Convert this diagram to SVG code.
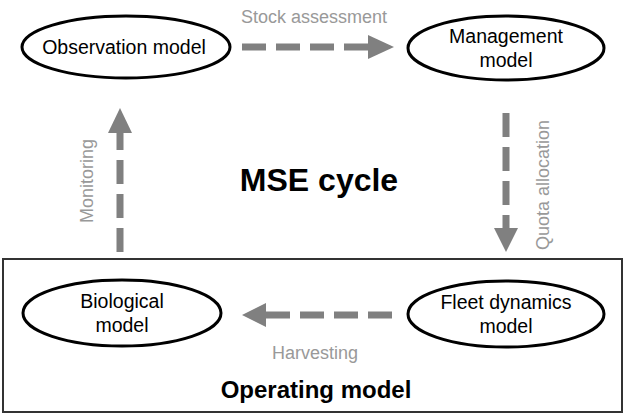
<svg xmlns="http://www.w3.org/2000/svg" width="626" height="417" viewBox="0 0 626 417">
<style>
.node ellipse{fill:#fff;stroke:#000;stroke-width:3}
.lbl{font-family:"Liberation Sans",Arial,sans-serif;font-size:19.5px;fill:#000;text-anchor:middle}
.edge{font-family:"Liberation Sans",Arial,sans-serif;font-size:18px;fill:#999;text-anchor:middle}
.dash{stroke:#808080;stroke-width:7;fill:none;stroke-dasharray:24 10}
.head{fill:#808080}
.title{font-family:"Liberation Sans",Arial,sans-serif;font-weight:bold;fill:#000;text-anchor:middle}
</style>
<rect x="3" y="259" width="619" height="153" fill="none" stroke="#333" stroke-width="2"/>
<g id="observation" class="node"><ellipse cx="126" cy="47" rx="104" ry="31"/><text class="lbl" x="124" y="54">Observation  model</text></g>
<g id="management" class="node"><ellipse cx="506" cy="48" rx="98" ry="32"/><text class="lbl" x="506" y="43">Management</text><text class="lbl" x="506" y="67">model</text></g>
<g id="biological" class="node"><ellipse cx="122" cy="313" rx="99" ry="33"/><text class="lbl" x="122" y="308">Biological</text><text class="lbl" x="122" y="332">model</text></g>
<g id="fleet" class="node"><ellipse cx="506" cy="314" rx="98" ry="33"/><text class="lbl" x="506" y="309">Fleet dynamics</text><text class="lbl" x="506" y="333">model</text></g>
<g id="connectors">
<line class="dash" x1="242" y1="47" x2="370" y2="47"/><polygon class="head" points="368,35 394,47 368,59"/>
<line class="dash" x1="506" y1="113" x2="506" y2="228"/><polygon class="head" points="494,228 506,252 518,228"/>
<line class="dash" x1="392" y1="315" x2="266" y2="315"/><polygon class="head" points="266,303 242,315 266,327"/>
<line class="dash" x1="120" y1="252" x2="120" y2="132"/><polygon class="head" points="108,133 120,108 132,133"/>
</g>
<text class="edge" x="314" y="23">Stock assessment</text>
<text class="edge" transform="translate(93,181) rotate(-90)">Monitoring</text>
<text class="edge" transform="translate(549,185) rotate(-90)">Quota allocation</text>
<text class="edge" x="315" y="359">Harvesting</text>
<text class="title" x="319" y="191" font-size="32">MSE cycle</text>
<text class="title" x="316" y="398" font-size="24">Operating model</text>
</svg>
